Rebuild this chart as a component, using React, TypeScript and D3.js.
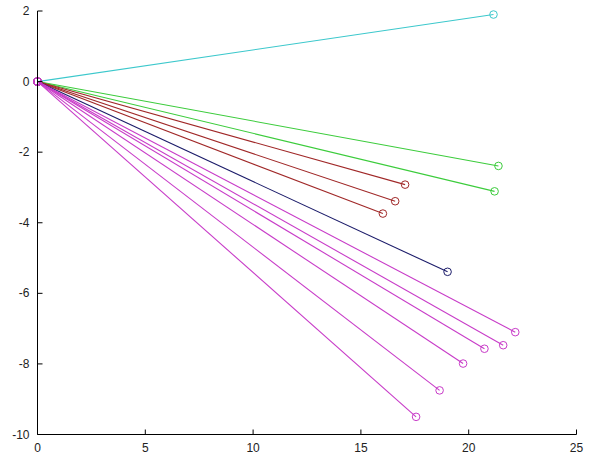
import React from "react";
import * as d3 from "d3";

const endX = [21.15, 21.38, 21.2, 17.05, 16.59, 16.02, 19.02, 22.16, 21.6, 20.73, 19.74, 18.65, 17.56];
const endY = [1.9, -2.39, -3.11, -2.92, -3.39, -3.74, -5.39, -7.1, -7.47, -7.57, -7.99, -8.75, -9.5];
const groups = ["c", "g", "g", "r", "r", "r", "b", "m", "m", "m", "m", "m", "m"];
const groupColors: Record<string, string> = {
  c: "#3cc8cc",
  g: "#3ccc3c",
  r: "#a02828",
  b: "#1c1c6a",
  m: "#c83cc8",
};
const xTicks = [0, 5, 10, 15, 20, 25];
const yTicks = [2, 0, -2, -4, -6, -8, -10];

export default function App() {
  const W = 592, H = 460;
  const x = d3.scaleLinear().domain([0, 25]).range([37.5, 576.5]);
  const y = d3.scaleLinear().domain([-10, 2]).range([434.5, 11]);
  const font = "'Liberation Sans', Arial, sans-serif";
  return (
    <svg width={W} height={H} style={{ position: "absolute", left: 0, top: 0, background: "#fff" }}>
      <rect width={W} height={H} fill="#fff" />
      {endX.map((ex, i) => {
        const col = groupColors[groups[i]];
        return (
          <g key={i}>
            <line x1={x(0)} y1={y(0)} x2={x(ex)} y2={y(endY[i])} stroke={col} strokeWidth={1.1} />
            <circle cx={x(0)} cy={y(0)} r={3.8} fill="none" stroke={col} strokeWidth={1} />
            <circle cx={x(ex)} cy={y(endY[i])} r={3.8} fill="none" stroke={col} strokeWidth={1} />
          </g>
        );
      })}
      <line x1={x(0)} y1={y(-10)} x2={x(25)} y2={y(-10)} stroke="#000" strokeWidth={1} />
      <line x1={x(0)} y1={y(-10)} x2={x(0)} y2={y(2)} stroke="#000" strokeWidth={1} />
      {xTicks.map((t) => (
        <g key={"x" + t}>
          <line x1={x(t)} x2={x(t)} y1={y(-10)} y2={y(-10) - 5} stroke="#000" />
          <text x={x(t)} y={y(-10) + 17} textAnchor="middle" fontFamily={font} fontSize={12} fill="#222">{t}</text>
        </g>
      ))}
      {yTicks.map((t) => (
        <g key={"y" + t}>
          <line x1={x(0)} x2={x(0) + 5} y1={y(t)} y2={y(t)} stroke="#000" />
          <text x={x(0) - 8} y={y(t) + 4} textAnchor="end" fontFamily={font} fontSize={12} fill="#222">{t}</text>
        </g>
      ))}
    </svg>
  );
}
